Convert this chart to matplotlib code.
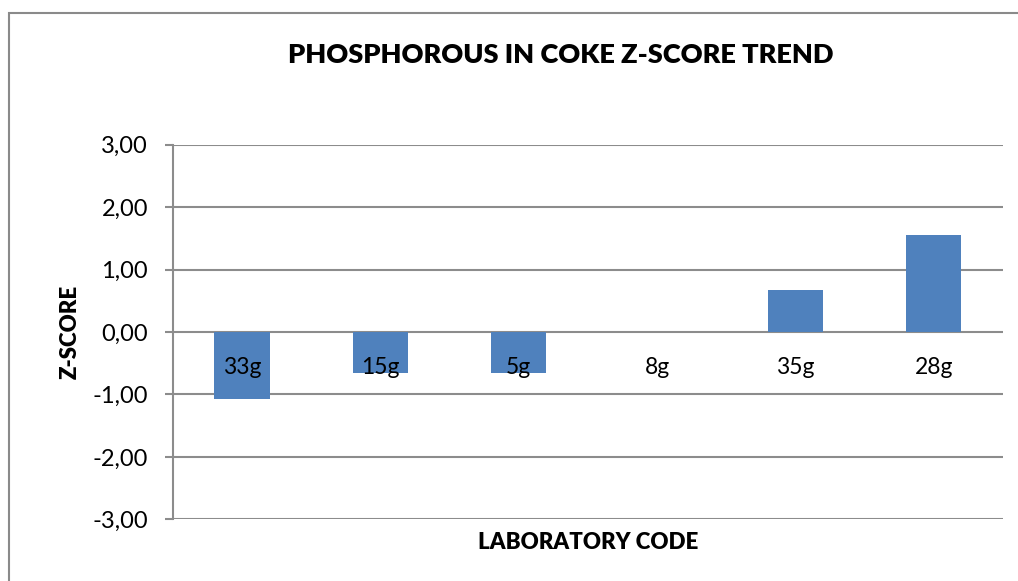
import matplotlib.pyplot as plt
from matplotlib.patches import Rectangle

labs = ["33g", "15g", "5g", "8g", "35g", "28g"]
zscores = [-1.08, -0.66, -0.66, 0.0, 0.67, 1.55]
yticks = [-3, -2, -1, 0, 1, 2, 3]

plt.rcParams['font.family'] = ['Lato', 'DejaVu Sans']
bold_fam = ['Lato', 'DejaVu Sans']

fig = plt.figure(figsize=(10.18, 5.81), dpi=100)
ax = fig.add_axes([0.1699, 0.1062, 0.8153, 0.6448])

grid_col = '#8c8c8c'
x = list(range(len(labs)))
ax.bar(x, zscores, width=0.40, color='#4F81BD', zorder=3)

ax.set_xlim(-0.5, len(labs) - 0.5)
ax.set_ylim(-3, 3)
ax.set_yticks(yticks)
ax.yaxis.set_major_formatter(plt.FuncFormatter(lambda v, p: ("%.2f" % v).replace('.', ',')))
ax.tick_params(axis='y', length=6, width=1.5, color=grid_col, pad=12, labelsize=17)
ax.set_xticks([])
ax.grid(axis='y', color=grid_col, linewidth=1.5, zorder=0)
for s in ['top', 'right', 'bottom']:
    ax.spines[s].set_visible(False)
ax.spines['left'].set_color(grid_col)
ax.spines['left'].set_linewidth(1.5)

# category labels sit just under the zero line
for i, lab in enumerate(labs):
    ax.annotate(lab, xy=(i, 0), xytext=(0, -25.5), textcoords='offset points',
                ha='center', va='center', fontsize=16.5, zorder=4)

fig.text(0.551, 0.905, "PHOSPHOROUS IN COKE Z-SCORE TREND", ha='center', va='center',
         fontsize=19.5, fontweight='heavy', family=bold_fam)
fig.text(0.069, 0.428, "Z-SCORE", ha='center', va='center', rotation=90,
         fontsize=16, fontweight='heavy', family=bold_fam)
fig.text(0.578, 0.067, "LABORATORY CODE", ha='center', va='center',
         fontsize=16, fontweight='heavy', family=bold_fam)

fig.patches.append(Rectangle((9 / 1018, -0.1), 1.2, 1 - 13 / 581 + 0.1,
                             transform=fig.transFigure, fill=False,
                             edgecolor='#8a8a8a', linewidth=1.5))

fig.savefig("out.png", dpi=100)
